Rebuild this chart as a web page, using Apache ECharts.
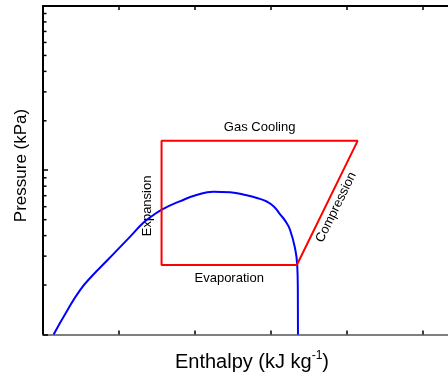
<!DOCTYPE html>
<html>
<head>
<meta charset="utf-8">
<script src="https://cdn.jsdelivr.net/npm/echarts@6/dist/echarts.min.js"></script>
<style>
  html, body { margin: 0; padding: 0; background: #fff; }
  #main { width: 448px; height: 374px; }
</style>
</head>
<body>
<div id="main"></div>
<script>
// CO2 saturation dome: enthalpy (kJ/kg) and pressure (kPa)
const domeEnthalpy = [114, 130, 149, 166, 184, 201, 215, 232, 245, 257, 280, 303, 324, 346, 368, 384, 395, 404, 412, 419, 425, 432, 434.5, 435.3, 435.5];
const domePressure = [1000, 1350, 1870, 2310, 2810, 3390, 3960, 4790, 5320, 5780, 6470, 7090, 7400, 7340, 7040, 6720, 6430, 6000, 5390, 4900, 4340, 3280, 2650, 1870, 1000];

// Transcritical cycle: compressor inlet -> gas cooler inlet -> gas cooler outlet -> evaporator inlet -> back
const cycleEnthalpy = [434, 514, 256, 256, 434];
const cyclePressure = [2650, 15100, 15100, 2650, 2650];

// Axis extents and minor ticks of the logarithmic pressure axis
const enthalpyRange = [100, 700];
const enthalpyStep = 100;
const pressureRange = [1000, 100000];
const minorPressureTicks = [2000, 3000, 4000, 5000, 6000, 7000, 8000, 9000,
                            20000, 30000, 40000, 50000, 60000, 70000, 80000, 90000];

const FONT = '"Liberation Sans", Arial, Helvetica, sans-serif';

const chart = echarts.init(document.getElementById('main'), null, { renderer: 'canvas' });

const zip = (a, b) => a.map((v, i) => [v, b[i]]);

const baseX = {
  type: 'value',
  min: enthalpyRange[0],
  max: enthalpyRange[1],
  interval: enthalpyStep,
  axisLabel: { show: false },
  splitLine: { show: false },
  axisTick: { show: true, inside: true, length: 4, lineStyle: { color: '#000', width: 1.5 } }
};

chart.setOption({
  animation: false,
  backgroundColor: '#fff',
  // plot frame runs on past the right edge of the canvas
  grid: { left: 43, top: 6, width: 456, height: 328.5, containLabel: false, outerBoundsMode: 'none' },
  xAxis: [
    Object.assign({}, baseX, {
      position: 'bottom',
      axisLine: { show: true, lineStyle: { color: '#7f7f7f', width: 2 } }
    }),
    Object.assign({}, baseX, {
      position: 'top',
      axisLine: { show: true, lineStyle: { color: '#000', width: 2 } }
    })
  ],
  yAxis: {
    type: 'log',
    logBase: 10,
    min: pressureRange[0],
    max: pressureRange[1],
    axisLabel: { show: false },
    splitLine: { show: false },
    axisLine: { show: true, lineStyle: { color: '#000', width: 2 } },
    axisTick: { show: true, inside: true, length: 5, lineStyle: { color: '#000', width: 1.5 } }
  },
  series: [
    {
      name: 'Saturation',
      type: 'line',
      data: zip(domeEnthalpy, domePressure),
      showSymbol: false,
      smooth: 0.5,
      lineStyle: { color: '#0000ff', width: 2 },
      z: 3
    },
    {
      name: 'Cycle',
      type: 'line',
      data: zip(cycleEnthalpy, cyclePressure),
      showSymbol: false,
      lineStyle: { color: '#ff0000', width: 2 },
      z: 4
    },
    {
      name: 'Minor ticks',
      type: 'custom',
      silent: true,
      clip: false,
      data: minorPressureTicks.map(p => [enthalpyRange[0], p]),
      renderItem: (params, api) => {
        const pt = api.coord([api.value(0), api.value(1)]);
        return {
          type: 'line',
          shape: { x1: pt[0], y1: pt[1], x2: pt[0] + 3.5, y2: pt[1] },
          style: { stroke: '#000', lineWidth: 1.5 }
        };
      },
      z: 5
    }
  ]
});

// Process labels placed relative to the cycle edges
const px = (h, p) => chart.convertToPixel({ xAxisIndex: 0, yAxisIndex: 0 }, [h, p]);
const inlet = px(cycleEnthalpy[0], cyclePressure[0]);
const dischg = px(cycleEnthalpy[1], cyclePressure[1]);
const coolerOut = px(cycleEnthalpy[2], cyclePressure[2]);
const evapIn = px(cycleEnthalpy[3], cyclePressure[3]);

const labelStyle = { font: '13px ' + FONT, fill: '#000', align: 'center', verticalAlign: 'middle' };
const compAngle = Math.atan2(inlet[1] - dischg[1], dischg[0] - inlet[0]);
const compMid = [(inlet[0] + dischg[0]) / 2, (inlet[1] + dischg[1]) / 2];
const normal = [Math.sin(compAngle), Math.cos(compAngle)];

chart.setOption({
  graphic: [
    { type: 'text', x: (coolerOut[0] + dischg[0]) / 2, y: coolerOut[1] - 13,
      style: Object.assign({ text: 'Gas Cooling' }, labelStyle) },
    { type: 'text', x: (evapIn[0] + inlet[0]) / 2, y: evapIn[1] + 13,
      style: Object.assign({ text: 'Evaporation' }, labelStyle) },
    { type: 'text', x: evapIn[0] - 14.5, y: (evapIn[1] + coolerOut[1]) / 2 + 3, rotation: Math.PI / 2,
      style: Object.assign({ text: 'Expansion' }, labelStyle) },
    { type: 'text', x: compMid[0] + normal[0] * 10, y: compMid[1] + normal[1] * 10, rotation: compAngle,
      style: Object.assign({ text: 'Compression' }, labelStyle) },
    { type: 'text', x: 21.5, y: 165.5, rotation: Math.PI / 2,
      style: { text: 'Pressure (kPa)', font: '17px ' + FONT, fill: '#000', align: 'center', verticalAlign: 'middle' } },
    { type: 'text', x: 252, y: 361,
      style: {
        text: '{m|Enthalpy (kJ kg}{s|-1}{m|)}',
        align: 'center', verticalAlign: 'middle', fill: '#000',
        rich: {
          m: { fontSize: 20, fontFamily: FONT, lineHeight: 22, verticalAlign: 'bottom' },
          s: { fontSize: 12, fontFamily: FONT, lineHeight: 12, verticalAlign: 'top' }
        }
      } }
  ]
});
</script>
</body>
</html>
